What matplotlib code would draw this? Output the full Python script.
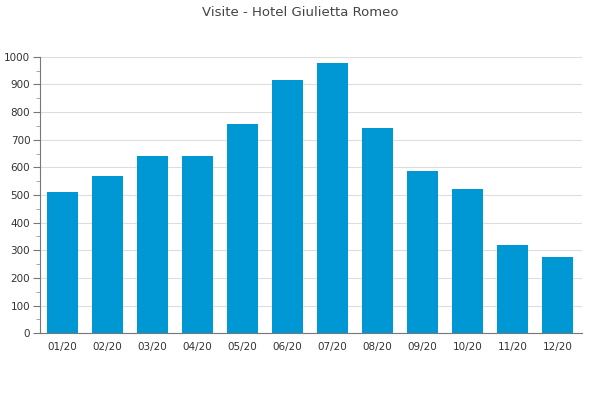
import matplotlib
matplotlib.use('Agg')
from matplotlib import pyplot as plt
from matplotlib.ticker import MultipleLocator

months = ['01/20', '02/20', '03/20', '04/20', '05/20', '06/20',
          '07/20', '08/20', '09/20', '10/20', '11/20', '12/20']
visits = [511, 569, 641, 641, 757, 916, 977, 742, 587, 522, 319, 276]

fig = plt.figure(figsize=(6, 4), dpi=100)
ax = fig.add_axes([40/600, 1 - 333.3/400, 542/600, 276.6/400])

x = range(len(months))
ax.bar(x, visits, width=0.69, color='#0098d4', zorder=3)

ax.set_xlim(-0.5, 11.54)
ax.set_ylim(0, 1000)
ax.set_xticks(list(x))
ax.set_xticklabels(months)
ax.yaxis.set_major_locator(MultipleLocator(100))
ax.yaxis.set_minor_locator(MultipleLocator(50))
ax.grid(axis='y', color='#dddddd', linewidth=0.8, zorder=0)

for s in ['top', 'right']:
	ax.spines[s].set_visible(False)
for s in ['left', 'bottom']:
	ax.spines[s].set_color('#777777')
	ax.spines[s].set_linewidth(0.8)

ax.tick_params(axis='y', which='major', length=5, color='#777777', labelsize=7.5, labelcolor='#333333', pad=2)
ax.tick_params(axis='y', which='minor', length=3, color='#999999')
ax.tick_params(axis='x', length=0, labelsize=7.5, labelcolor='#333333', pad=6)

fig.suptitle('Visite - Hotel Giulietta Romeo', y=0.985, fontsize=9.5, color='#444444')
fig.savefig('out.png', dpi=100)
